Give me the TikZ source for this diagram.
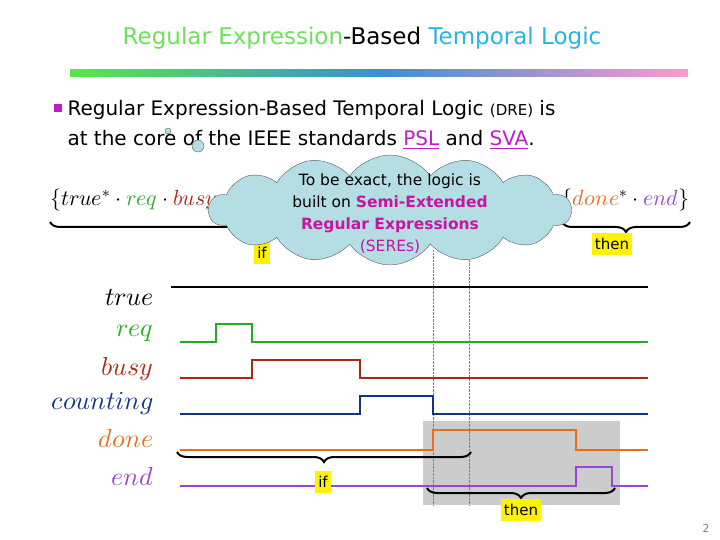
\documentclass[tikz,border=0pt]{standalone}
\usepackage{fontspec}
\setmainfont{DejaVu Sans}
\usepackage{unicode-math}
\setmathfont{Latin Modern Math}
\usetikzlibrary{shapes.symbols,decorations.pathreplacing}
\definecolor{tgreen}{RGB}{110,225,90}
\definecolor{tblue}{RGB}{40,180,230}
\definecolor{mag}{RGB}{190,30,200}
\definecolor{creq}{RGB}{40,170,40}
\definecolor{cbusy}{RGB}{170,40,20}
\definecolor{ccount}{RGB}{20,50,140}
\definecolor{cdone}{RGB}{230,110,30}
\definecolor{cend}{RGB}{150,70,210}
\definecolor{cloudc}{RGB}{180,222,228}
\definecolor{cmag}{RGB}{200,20,160}
\begin{document}
\begin{tikzpicture}[x=1pt,y=-1pt,
  sig/.style={line width=2.6pt},
  lab/.style={anchor=east,font=\fontsize{26}{28}\selectfont},
  ylab/.style={fill=yellow,inner sep=3pt,minimum height=22pt,font=\fontsize{15}{17}\selectfont},
  br/.style={decorate,decoration={brace,mirror,amplitude=10pt},line width=2pt}]
\useasboundingbox (0,0) rectangle (720,540);
% title
\node (title) at (362,38) {\fontsize{23}{26}\selectfont\color{tgreen}Regular Expression\color{black}-Based \color{tblue}Temporal Logic};
\shade[left color=tgreen!80!green, right color=pink!80!magenta, middle color=tblue!80!violet] (70,70) rectangle (688,77);
% bullet
\fill[mag] (54,104) rectangle (62,112);
\node[anchor=west] (b1) at (64,110) {\fontsize{20}{22}\selectfont Regular Expression-Based Temporal Logic {\fontsize{15}{16}\selectfont (DRE)} is};
\node[anchor=west] (b2) at (64,140) {\fontsize{20}{22}\selectfont at the core of the IEEE standards \textcolor{mag}{\underline{PSL}} and \textcolor{mag}{\underline{SVA}}.};
% formula
\node[anchor=west,inner sep=0] (f1) at (50,200) {\fontsize{22}{26}\selectfont $\{true^{*}\cdot \textcolor{creq}{req}\cdot \textcolor{cbusy}{busy}\cdot \textcolor{ccount}{counting}^{*}\}$};
\node[anchor=east,inner sep=0] (f2) at (690,200) {\fontsize{22}{26}\selectfont $\{\textcolor{cdone}{done}^{*}\cdot \textcolor{cend}{end}\}$};
\draw[br] (50,222) -- (480,222);
\draw[br] (562,222) -- (690,222);
\node[ylab] (if1) at (262,253) {if};
\node[ylab] (then1) at (612,244) {then};
% gray area and dotted lines
\fill[gray!40] (423,421) rectangle (620,505);
\draw[densely dotted,gray] (433,250) -- (433,505);
\draw[densely dotted,gray] (469,250) -- (469,505);
% signal labels
\node[lab] (ltrue) at (157,298) {$true$};
\node[lab,text=creq] (lreq) at (157,333) {$req$};
\node[lab,text=cbusy] (lbusy) at (157,369) {$busy$};
\node[lab,text=ccount] (lcount) at (157,404) {$counting$};
\node[lab,text=cdone] (ldone) at (157,439) {$done$};
\node[lab,text=cend] (lend) at (157,477) {$end$};
% waveforms
\draw[line width=1.8pt] (171,287) -- (648,287);
\draw[sig,creq] (180,342) -- (216,342) -- (216,324) -- (252,324) -- (252,342) -- (648,342);
\draw[sig,cbusy] (180,378) -- (252,378) -- (252,360) -- (360,360) -- (360,378) -- (648,378);
\draw[sig,ccount] (180,414) -- (360,414) -- (360,396) -- (433,396) -- (433,414) -- (648,414);
\draw[sig,cdone] (180,450) -- (433,450) -- (433,430) -- (576,430) -- (576,450) -- (648,450);
\draw[sig,cend] (180,486) -- (576,486) -- (576,467) -- (612,467) -- (612,486) -- (648,486);
% lower braces
\draw[br] (177,452) -- (471,452);
\draw[br] (427,488) -- (615,488);
\node[ylab] (if2) at (323,482) {if};
\node[ylab] (then2) at (521,510) {then};
% cloud
\draw[gray!70!black,fill=cloudc] (168,131) circle (3);
\draw[gray!70!black,fill=cloudc] (198,146) circle (6);
\node[cloud,cloud puffs=14,cloud puff arc=110,aspect=3.2,draw=gray!70!black,fill=cloudc,minimum width=362pt,minimum height=110pt] (cl) at (390,210) {};
\node[align=center,font=\fontsize{15.5}{22}\selectfont] (cltext) at (390,214) {To be exact, the logic is\\ built on \textcolor{cmag}{\textbf{Semi-Extended}}\\ \textcolor{cmag}{\textbf{Regular Expressions}}\\ \textcolor{cmag}{(SEREs)}};
\node[text=gray] (pg) at (706,528) {\fontsize{11}{13}\selectfont 2};
\end{tikzpicture}
\end{document}
